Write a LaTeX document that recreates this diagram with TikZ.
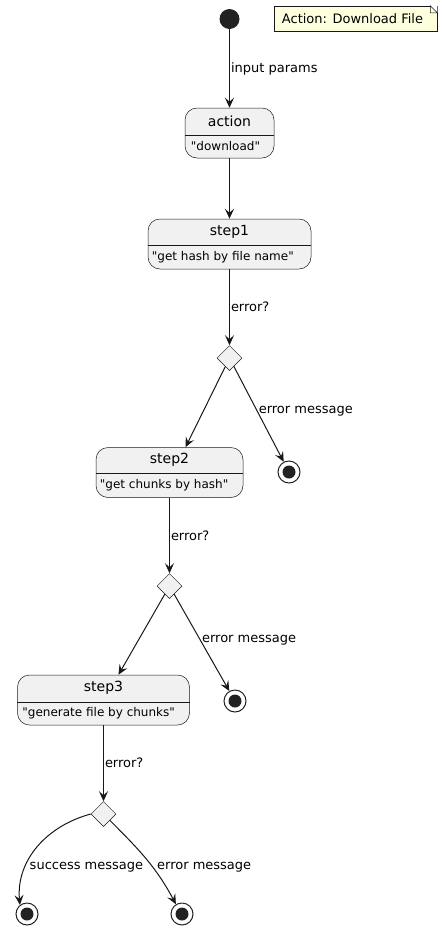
\documentclass[tikz,border=0pt]{standalone}
\usepackage{fontspec}
\setmainfont{DejaVu Sans}[Ligatures=TeXOff]
\usetikzlibrary{shapes.geometric,arrows.meta,positioning}
\definecolor{ink}{HTML}{181818}
\definecolor{dot}{HTML}{222222}
\definecolor{statefill}{HTML}{F1F1F1}
\definecolor{notefill}{HTML}{FEFFDD}
\tikzset{
  statebox/.style={draw=ink,line width=0.5pt,fill=statefill,rounded corners=12pt,minimum height=50pt,inner sep=0pt},
  divider/.style={draw=ink,line width=0.5pt},
  title/.style={font=\fontsize{14}{16}\selectfont,inner sep=0pt},
  desc/.style={font=\fontsize{12}{14}\selectfont,inner sep=0pt,anchor=west},
  lbl/.style={font=\fontsize{13}{15}\selectfont,inner sep=1pt},
  choice/.style={diamond,draw=ink,line width=0.5pt,fill=statefill,minimum size=25pt,inner sep=0pt},
  startdot/.style={circle,fill=dot,minimum size=20pt,inner sep=0pt},
  enddot/.style={circle,draw=dot,line width=1pt,fill=white,minimum size=22pt,inner sep=0pt,
    path picture={\fill[dot] (path picture bounding box.center) circle (6.5pt);}},
  flow/.style={draw=ink,line width=1pt,-{Stealth[length=10pt,width=9pt,inset=4pt]}},
  note/.style={draw=ink,line width=0.5pt,fill=notefill,minimum width=163pt,minimum height=25pt,
    inner sep=0pt,font=\fontsize{13}{15}\selectfont}
}
\begin{document}
\begin{tikzpicture}[x=1pt,y=-1pt]
\useasboundingbox (0,0) rectangle (442,930);

% start and note
\node[startdot] (start) at (229.5,19) {};
\node[note] (note) at (355.5,18.5) {\hspace*{-6pt}Action: Download File};
\fill[white] ([xshift=-7pt]note.north east) -- (note.north east) -- ([yshift=-7pt]note.north east) -- cycle;
\draw[ink,line width=0.5pt] ([xshift=-7pt]note.north east) -- ([xshift=-7pt,yshift=-7pt]note.north east)
  -- ([yshift=-7pt]note.north east) -- cycle;

% states
\node[statebox,minimum width=89pt] (action) at (229.5,133) {};
\draw[divider] ([yshift=-27pt]action.north west) -- ([yshift=-27pt]action.north east);
\node[title] (actionT) at ([yshift=-13.5pt]action.north) {action};
\node[desc] (actionD) at ([xshift=6pt,yshift=-38.5pt]action.north west) {"download"};

\node[statebox,minimum width=163pt] (step1) at (229.5,244) {};
\draw[divider] ([yshift=-26pt]step1.north west) -- ([yshift=-26pt]step1.north east);
\node[title] (step1T) at ([yshift=-13pt]step1.north) {step1};
\node[desc] (step1D) at ([xshift=4pt,yshift=-38pt]step1.north west) {"get hash by file name"};

\node[statebox,minimum width=147pt] (step2) at (169.5,472.5) {};
\draw[divider] ([yshift=-25.5pt]step2.north west) -- ([yshift=-25.5pt]step2.north east);
\node[title] (step2T) at ([yshift=-12.5pt]step2.north) {step2};
\node[desc] (step2D) at ([xshift=4pt,yshift=-37.5pt]step2.north west) {"get chunks by hash"};

\node[statebox,minimum width=172pt] (step3) at (103.5,700) {};
\draw[divider] ([yshift=-27pt]step3.north west) -- ([yshift=-27pt]step3.north east);
\node[title] (step3T) at ([yshift=-13pt]step3.north) {step3};
\node[desc] (step3D) at ([xshift=5pt,yshift=-38.5pt]step3.north west) {"generate file by chunks"};

% choices and ends
\node[choice] (d1) at (229.5,358) {};
\node[choice] (d2) at (169.5,586) {};
\node[choice] (d3) at (103.5,814) {};
\node[enddot] (e1) at (289,472) {};
\node[enddot] (e2) at (235,701) {};
\node[enddot] (e3) at (27,914) {};
\node[enddot] (e4) at (182,914) {};

% transitions
\draw[flow] (start) -- node[lbl,right] {input params} (action);
\draw[flow] (action) -- (step1);
\draw[flow] (step1) -- node[lbl,right] {error?} (d1);
\draw[flow] (d1) -- ([xshift=16pt]step2.north);
\draw[flow] (d1) -- node[lbl,right,pos=0.47] {error message} (e1);
\draw[flow] (step2) -- node[lbl,right] {error?} (d2);
\draw[flow] (d2) -- ([xshift=15pt]step3.north);
\draw[flow] (d2) -- node[lbl,right,pos=0.48] {error message} (e2);
\draw[flow] (step3) -- node[lbl,right] {error?} (d3);
\draw[flow] (d3.west) to[out=195,in=95] node[lbl,anchor=west,pos=0.7,xshift=3pt] {success message} (e3.128);
\draw[flow] (d3.south east) to[out=-45,in=118] node[lbl,anchor=west,pos=0.6,xshift=3pt] {error message} (e4.122);
\end{tikzpicture}
\end{document}
